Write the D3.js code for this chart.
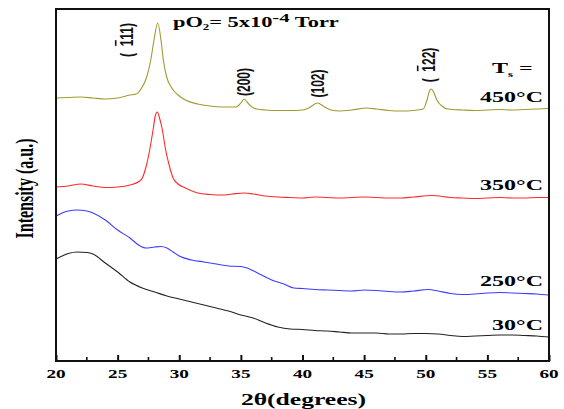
<!DOCTYPE html>
<html><head><meta charset="utf-8">
<script src="https://cdn.jsdelivr.net/npm/d3@7"></script>
<style>html,body{margin:0;padding:0;background:#fff;}svg{display:block;}</style>
</head><body>
<svg id="c" width="564" height="409"></svg>
<script>
// ---- data (2θ in degrees, intensity in arbitrary units, stacked offsets as in figure)
const theta450 = [20,21,22,23,24,25,26,26.5,26.95,27.36,27.69,27.95,28.25,28.52,28.71,28.98,29.39,29.9,30.5,31.5,32.5,33.5,34.6,35.0,35.26,35.5,35.9,36.3,37,38,39,40,40.5,41.2,41.8,42.3,43,44,45.2,46,47,48,49,49.8,50.1,50.3,50.44,50.6,50.9,51.3,51.8,53,54,55,56,57,58,59,60];
const int450   = [263,263.5,264,263,262,263,266,267,273,284,301,321,338,321,301,284,273,266,261,257,255,254,254,258,262,259,254,252,251,250.5,250.5,251,253,258,254,251,250,251,253,252,250.5,250,250.5,252,261,270,272,270,261,255,252,251,250.5,251,251.5,251,251.5,252,252.5];

const theta350 = [20,21,22,23,24,25,26,26.8,27.0,27.3,27.6,27.9,28.05,28.22,28.4,28.6,28.9,29.2,29.5,29.9,30.5,31.5,32.5,33.5,34.3,35.3,36,37,38,39,40,41,42,43,44,45,46,47,48,49,50.5,52,53,54,55,56,57,58,59,60];
const int350   = [174,175,177,175,173.5,174,176,180,183,194,211,233,245,249,243,233,211,195,183,177,173,168,166.5,166,167,168,167,165,164,163.5,163,164,163.5,163,163.5,164,163.5,163,163,164,165.5,163.5,163,162.5,163,163.5,163,163,163.5,163.5];

const theta250 = [20,20.5,21,21.7,22.5,23,24,25,26,26.7,27.3,28,28.5,29,29.5,30,31,32,33,34,35,35.5,36.5,37.5,38.5,39.3,40,41,42,43,44,45,46,47,48,49,50.2,51,52,53,54,55,56,57,58,59,60];
const int250   = [145,148,150,151,150,148,141,131,123,116,113,114,114.5,113,109,105,101,99,97,95,94.5,93,87,81,77,73,72.5,71.5,71,70.5,70,71,70.5,69.5,69,70,71.5,70,67.5,66.5,67,68,68.5,68,67.5,67,66];

const theta30  = [20,20.5,21,21.7,22.5,23,24,25,26,27,28,29,30,31,32,33,34,35,36,37,38,39,40,41,42,43,44,45,46,47,48,49,50,51,52,53,54,55,56,57,58,59,60];
const int30    = [102,105,107.5,109,108.5,107,98,89,79,73,69,65,62,59,56,53,50,46,43,38,34,32,31.5,30.5,30,29,28,28,28,27,27,27.5,27.5,27,25.5,24.5,25,25.5,26,26,25.5,25,24];

const seriesNames  = ["450°C","350°C","250°C","30°C"];
const seriesColors = ["#a09a30","#ff2a2a","#3c3cff","#222222"];
const xTicks = [20,25,30,35,40,45,50,55,60];
const minorTicks = [22.5,27.5,32.5,37.5,42.5,47.5,52.5,57.5];
const peakLabels = [{pre:"(\u00a0\u00a0",bar:"1",post:"11)"},{pre:"(",bar:"",post:"200)"},{pre:"(",bar:"",post:"102)"},{pre:"(\u00a0\u00a0",bar:"1",post:"22)"}];

// ---- layout
const W=564,H=409, L=56, R=549, T=9, B=361;
const SX=1.6; // horizontal stretch of the original figure's text
const svg=d3.select("#c");
const x=d3.scaleLinear().domain([20,60]).range([L,R]);
const y=d3.scaleLinear().domain([0,352]).range([B,T]);

const series=[[theta450,int450],[theta350,int350],[theta250,int250],[theta30,int30]];
const line=d3.line().x(d=>x(d[0])).y(d=>y(d[1])).curve(d3.curveMonotoneX);
series.forEach((s,i)=>{
  const pts=s[0].map((t,j)=>[t,s[1][j]]);
  svg.append("path").datum(pts).attr("d",line).attr("fill","none")
    .attr("stroke",seriesColors[i]).attr("stroke-width",1.1);
});

// frame
svg.append("rect").attr("x",L).attr("y",T).attr("width",R-L).attr("height",B-T)
  .attr("fill","none").attr("stroke","#111").attr("stroke-width",2);

// bottom axis with inward ticks
const ax=svg.append("g").attr("transform",`translate(0,${B})`)
  .call(d3.axisBottom(x).tickValues(xTicks).tickSizeInner(-6).tickSizeOuter(0).tickFormat(""));
ax.select(".domain").remove();
ax.selectAll("line").attr("stroke","#111").attr("stroke-width",2);
svg.append("g").selectAll("line").data(minorTicks).join("line")
  .attr("x1",d=>x(d)).attr("x2",d=>x(d)).attr("y1",B).attr("y2",B-4)
  .attr("stroke","#111").attr("stroke-width",1.6);

function stretchText(px,py,rot){
  return svg.append("g").attr("transform",`translate(${px},${py}) scale(${SX},1)`+(rot?` rotate(${rot})`:""))
    .append("text").attr("font-family","'Liberation Serif','Times New Roman',serif").attr("font-weight","bold");
}
xTicks.forEach(t=>{
  stretchText(x(t),378).attr("text-anchor","middle").attr("font-size",12).text(t);
});
stretchText((L+R)/2+1,405).attr("text-anchor","middle").attr("font-size",16).text("2θ(degrees)");
stretchText(33,188.5,-90).attr("text-anchor","middle").attr("font-size",16).text("Intensity (a.u.)");

// pO2 annotation
const po=stretchText(173,27).attr("font-size",14);
po.append("tspan").text("pO");
po.append("tspan").attr("font-size",8).attr("dy",3).text("2");
po.append("tspan").attr("dy",-3).text("= 5x10");
po.append("tspan").attr("font-size",13).attr("dy",-5).text("-4");
po.append("tspan").attr("dy",5).text(" Torr");

// Ts =
const ts=stretchText(492,73).attr("font-size",15);
ts.append("tspan").text("T");
ts.append("tspan").attr("font-size",8).attr("dy",4).text("s");
ts.append("tspan").attr("dy",-4).text(" =");

// series labels
const labelY=[102,190,286,330];
seriesNames.forEach((n,i)=>{
  stretchText(543,labelY[i]).attr("text-anchor","end").attr("font-size",15).text(n);
});

// Miller index labels (rotated, reading bottom to top)
const peakTopPix=[[128,40],[245,82],[319,83.5],[430,65]];
function mk(g,s){
  return g.append("text").attr("font-family","'Liberation Sans',Arial,sans-serif")
    .attr("font-size",12).attr("font-weight","bold").attr("fill","#111").text(s);
}
peakLabels.forEach((p,i)=>{
  const [px,py]=peakTopPix[i];
  const g=svg.append("g").attr("transform",`translate(${px+4.5},${py}) scale(${SX},1) rotate(-90)`);
  const parts=[p.pre,p.bar,p.post];
  const nodes=parts.map(s=>mk(g,s));
  const widths=nodes.map(n=>n.node().getComputedTextLength());
  const total=widths[0]+widths[1]+widths[2];
  let cx=-total/2;
  nodes.forEach((n,k)=>{ n.attr("x",cx); cx+=widths[k]; });
  if(p.bar){
    const x0=-total/2+widths[0];
    g.append("line").attr("x1",x0+0.5).attr("x2",x0+widths[1]-0.5).attr("y1",-10.5).attr("y2",-10.5)
      .attr("stroke","#111").attr("stroke-width",1);
  }
});
</script>
</body></html>
